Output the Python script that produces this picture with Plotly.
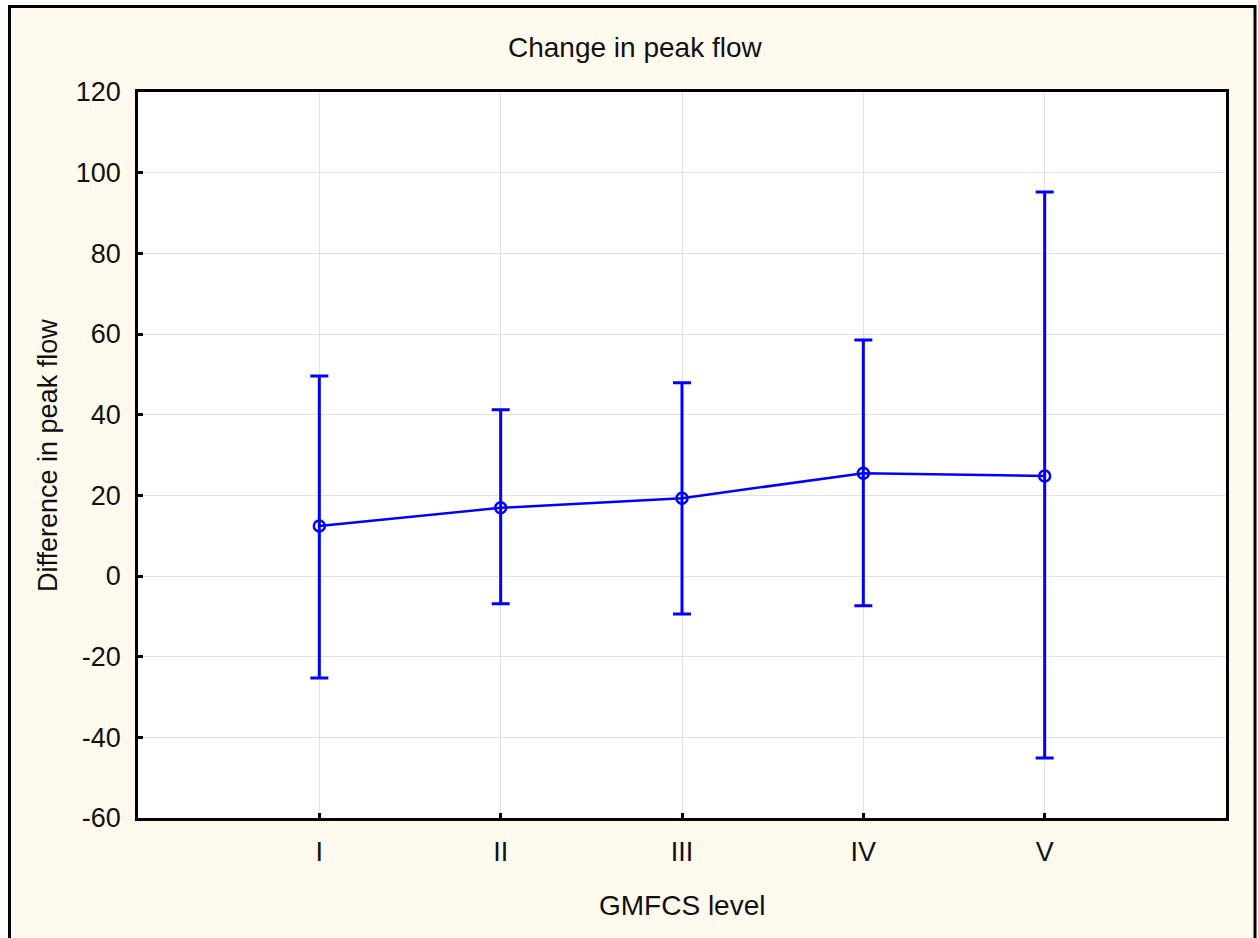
import plotly.graph_objects as go

levels = ["I", "II", "III", "IV", "V"]
means = [12.4, 16.9, 19.3, 25.5, 24.8]
upper = [49.6, 41.2, 47.9, 58.5, 95.2]
lower = [-25.3, -6.9, -9.4, -7.4, -45.1]
y_ticks = [-60, -40, -20, 0, 20, 40, 60, 80, 100, 120]
y_ticktext = ["-60", "-40", "-20", "0", "20", "40", "60", "80", "100", "120"]

err_plus = [u - m for u, m in zip(upper, means)]
err_minus = [m - l for m, l in zip(means, lower)]

blue = "#0000FF"
font_family = "Liberation Sans, Arial, sans-serif"

fig = go.Figure()
fig.add_trace(go.Scatter(
    x=levels, y=means, mode="lines+markers",
    line=dict(color=blue, width=2.5),
    marker=dict(symbol="circle-open", size=11, color=blue, line=dict(width=2.5, color=blue)),
    error_y=dict(type="data", symmetric=False, array=err_plus, arrayminus=err_minus,
                 color=blue, thickness=3, width=9),
    showlegend=False,
))

W, H = 1258, 938
L, T = 138, 92
R = W - 1226
B = H - 818
pw, ph = W - L - R, H - T - B

def px_x(x):
    return (x - L) / pw

def px_y(y):
    return (H - B - y) / ph

fig.update_layout(
    width=W, height=H,
    margin=dict(l=L, r=R, t=T, b=B),
    paper_bgcolor="white",
    plot_bgcolor="white",
    font=dict(family=font_family, size=27, color="#111111"),
    shapes=[
        dict(type="rect", xref="paper", yref="paper", layer="below",
             x0=px_x(9.5), x1=px_x(1255), y0=px_y(990), y1=px_y(6.5),
             fillcolor="#FFF9EE", line=dict(color="black", width=3)),
        dict(type="rect", xref="paper", yref="paper", layer="below",
             x0=0, x1=1, y0=0, y1=1, fillcolor="white", line=dict(width=0)),
    ],
    annotations=[
        dict(text="Change in peak flow", xref="paper", yref="paper",
             x=px_x(635), y=px_y(47), xanchor="center", yanchor="middle",
             showarrow=False, font=dict(size=28)),
        dict(text="GMFCS level", xref="paper", yref="paper",
             x=px_x(682), y=px_y(906), xanchor="center", yanchor="middle",
             showarrow=False, font=dict(size=28)),
        dict(text="Difference in peak flow", xref="paper", yref="paper",
             x=px_x(48), y=px_y(456), xanchor="center", yanchor="middle",
             textangle=-90, showarrow=False, font=dict(size=27)),
    ],
    xaxis=dict(
        type="category", range=[-1, 5],
        showline=True, linecolor="black", linewidth=2.5, mirror=True,
        showgrid=True, gridcolor="#e2e2e2", gridwidth=1,
        ticks="inside", ticklen=5, tickwidth=3, tickcolor="black",
        ticklabelstandoff=8, tickfont=dict(size=27),
        zeroline=False,
    ),
    yaxis=dict(
        range=[-60, 120], tickmode="array", tickvals=y_ticks, ticktext=y_ticktext,
        showline=True, linecolor="black", linewidth=2.5, mirror=True,
        showgrid=True, gridcolor="#e2e2e2", gridwidth=1,
        ticks="inside", ticklen=5, tickwidth=3, tickcolor="black",
        ticklabelstandoff=9, tickfont=dict(size=27),
        zeroline=False,
    ),
)

fig.write_html(
    "out.html",
    config={"displayModeBar": False},
    post_script="document.body.style.margin='0';document.body.style.overflow='hidden';",
)
